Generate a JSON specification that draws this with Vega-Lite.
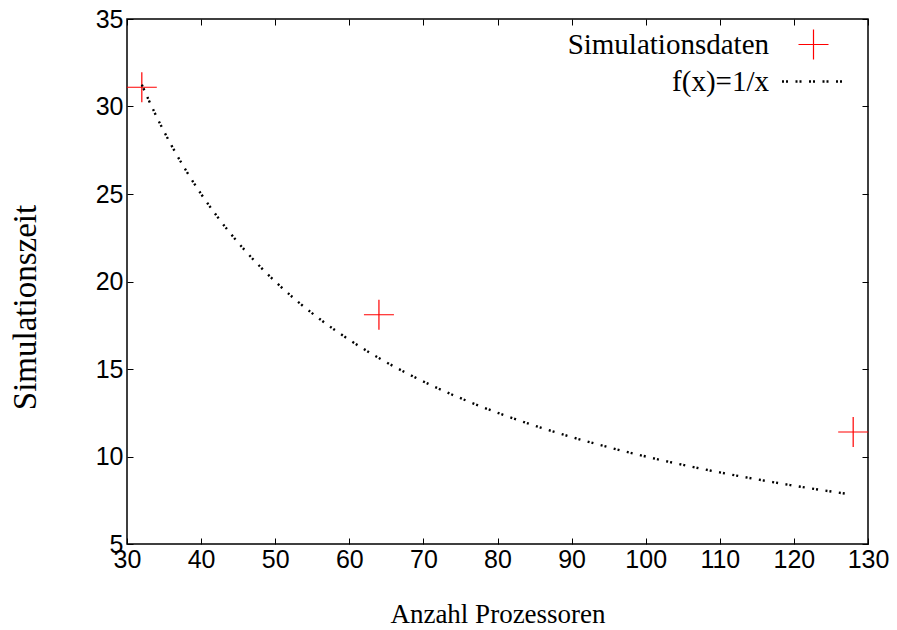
{
  "$schema": "https://vega.github.io/schema/vega-lite/v6.json",
  "width": 741,
  "height": 525,
  "autosize": {"type": "none"},
  "padding": {"left": 127, "top": 19, "right": 29, "bottom": 86},
  "background": "white",
  "config": {
    "view": {"stroke": "#000000", "strokeWidth": 1.5},
    "axis": {
      "grid": false,
      "domain": false,
      "tickColor": "#000000",
      "tickWidth": 1,
      "tickSize": -6,
      "labelFont": "Liberation Sans",
      "labelFontSize": 25,
      "labelColor": "#000000",
      "labelFlush": false,
      "labelOverlap": false,
      "titleFont": "Liberation Serif",
      "titleFontWeight": "normal",
      "titleColor": "#000000"
    }
  },
  "datasets": {
    "sim": [
      {"x": 32, "y": 31.1, "series": "Simulationsdaten"},
      {"x": 64, "y": 18.1, "series": "Simulationsdaten"},
      {"x": 128, "y": 11.4, "series": "Simulationsdaten"}
    ],
    "fit": [
      {"x": 32, "y": 31.25, "series": "f(x)=1/x"},
      {"x": 33, "y": 30.303, "series": "f(x)=1/x"},
      {"x": 34, "y": 29.412, "series": "f(x)=1/x"},
      {"x": 35, "y": 28.571, "series": "f(x)=1/x"},
      {"x": 36, "y": 27.778, "series": "f(x)=1/x"},
      {"x": 38, "y": 26.316, "series": "f(x)=1/x"},
      {"x": 40, "y": 25.0, "series": "f(x)=1/x"},
      {"x": 42, "y": 23.81, "series": "f(x)=1/x"},
      {"x": 44, "y": 22.727, "series": "f(x)=1/x"},
      {"x": 46, "y": 21.739, "series": "f(x)=1/x"},
      {"x": 48, "y": 20.833, "series": "f(x)=1/x"},
      {"x": 50, "y": 20.0, "series": "f(x)=1/x"},
      {"x": 53, "y": 18.868, "series": "f(x)=1/x"},
      {"x": 56, "y": 17.857, "series": "f(x)=1/x"},
      {"x": 60, "y": 16.667, "series": "f(x)=1/x"},
      {"x": 64, "y": 15.625, "series": "f(x)=1/x"},
      {"x": 68, "y": 14.706, "series": "f(x)=1/x"},
      {"x": 72, "y": 13.889, "series": "f(x)=1/x"},
      {"x": 76, "y": 13.158, "series": "f(x)=1/x"},
      {"x": 80, "y": 12.5, "series": "f(x)=1/x"},
      {"x": 85, "y": 11.765, "series": "f(x)=1/x"},
      {"x": 90, "y": 11.111, "series": "f(x)=1/x"},
      {"x": 95, "y": 10.526, "series": "f(x)=1/x"},
      {"x": 100, "y": 10.0, "series": "f(x)=1/x"},
      {"x": 105, "y": 9.524, "series": "f(x)=1/x"},
      {"x": 110, "y": 9.091, "series": "f(x)=1/x"},
      {"x": 115, "y": 8.696, "series": "f(x)=1/x"},
      {"x": 120, "y": 8.333, "series": "f(x)=1/x"},
      {"x": 127, "y": 7.874, "series": "f(x)=1/x"}
    ]
  },
  "layer": [
    {
      "data": {"name": "sim"},
      "mark": {"type": "point", "shape": "M-1,0H1M0,-1V1", "filled": false, "size": 900, "strokeWidth": 1.2, "opacity": 1},
      "encoding": {
        "x": {
          "field": "x", "type": "quantitative",
          "scale": {"domain": [30, 130], "nice": false, "zero": false},
          "axis": {"orient": "bottom", "values": [30, 40, 50, 60, 70, 80, 90, 100, 110, 120, 130], "labelPadding": 9, "title": "Anzahl Prozessoren", "titleFontSize": 27, "titleY": 78, "titleBaseline": "alphabetic", "titleX": 370.5, "titleAlign": "center"}
        },
        "y": {
          "field": "y", "type": "quantitative",
          "scale": {"domain": [5, 35], "nice": false, "zero": false},
          "axis": {"orient": "left", "values": [5, 10, 15, 20, 25, 30, 35], "labelPadding": 10, "title": "Simulationszeit", "titleFontSize": 33, "titleAngle": 270, "titleX": -92, "titleY": 288, "titleAlign": "center", "titleBaseline": "alphabetic"}
        },
        "color": {
          "field": "series", "type": "nominal",
          "scale": {"domain": ["Simulationsdaten", "f(x)=1/x"], "range": ["#ff0000", "#000000"]},
          "legend": {
            "title": null,
            "orient": "none",
            "legendX": 672,
            "legendY": 11,
            "padding": 0,
            "rowPadding": 5,
            "symbolSize": 900,
            "symbolType": "M-1,0H1M0,-1V1",
            "labelFont": "Liberation Serif",
            "labelFontSize": 29,
            "labelColor": "#000000",
            "labelAlign": "right",
            "labelOffset": -59,
            "labelLimit": 400,
            "encode": {
              "symbols": {
                "update": {
                  "shape": {"signal": "datum.value === 'f(x)=1/x' ? 'M-2.1,0H2.1' : 'M-1,0H1M0,-1V1'"},
                  "strokeDash": {"signal": "datum.value === 'f(x)=1/x' ? [2,2,2,7.5] : [1,0]"},
                  "strokeWidth": {"signal": "datum.value === 'f(x)=1/x' ? 2.4 : 1.2"},
                  "stroke": {"signal": "datum.value === 'f(x)=1/x' ? '#000000' : '#ff0000'"},
                  "fill": {"value": "transparent"},
                  "opacity": {"value": 1}
                }
              }
            }
          }
        }
      }
    },
    {
      "data": {"name": "fit"},
      "mark": {"type": "line", "strokeDash": [2, 2, 2, 7.5], "strokeWidth": 2.4, "interpolate": "monotone"},
      "encoding": {
        "x": {
          "field": "x", "type": "quantitative",
          "axis": {"orient": "top", "values": [30, 40, 50, 60, 70, 80, 90, 100, 110, 120, 130], "labels": false, "title": null}
        },
        "y": {
          "field": "y", "type": "quantitative",
          "axis": {"orient": "right", "values": [5, 10, 15, 20, 25, 30, 35], "labels": false, "title": null}
        },
        "color": {
          "field": "series", "type": "nominal",
          "legend": {
            "title": null,
            "orient": "none",
            "legendX": 672,
            "legendY": 11,
            "padding": 0,
            "rowPadding": 5,
            "symbolSize": 900,
            "symbolType": "M-1,0H1M0,-1V1",
            "labelFont": "Liberation Serif",
            "labelFontSize": 29,
            "labelColor": "#000000",
            "labelAlign": "right",
            "labelOffset": -59,
            "labelLimit": 400,
            "encode": {
              "symbols": {
                "update": {
                  "shape": {"signal": "datum.value === 'f(x)=1/x' ? 'M-2.1,0H2.1' : 'M-1,0H1M0,-1V1'"},
                  "strokeDash": {"signal": "datum.value === 'f(x)=1/x' ? [2,2,2,7.5] : [1,0]"},
                  "strokeWidth": {"signal": "datum.value === 'f(x)=1/x' ? 2.4 : 1.2"},
                  "stroke": {"signal": "datum.value === 'f(x)=1/x' ? '#000000' : '#ff0000'"},
                  "fill": {"value": "transparent"},
                  "opacity": {"value": 1}
                }
              }
            }
          }
        }
      }
    }
  ],
  "resolve": {"axis": {"x": "independent", "y": "independent"}}
}
